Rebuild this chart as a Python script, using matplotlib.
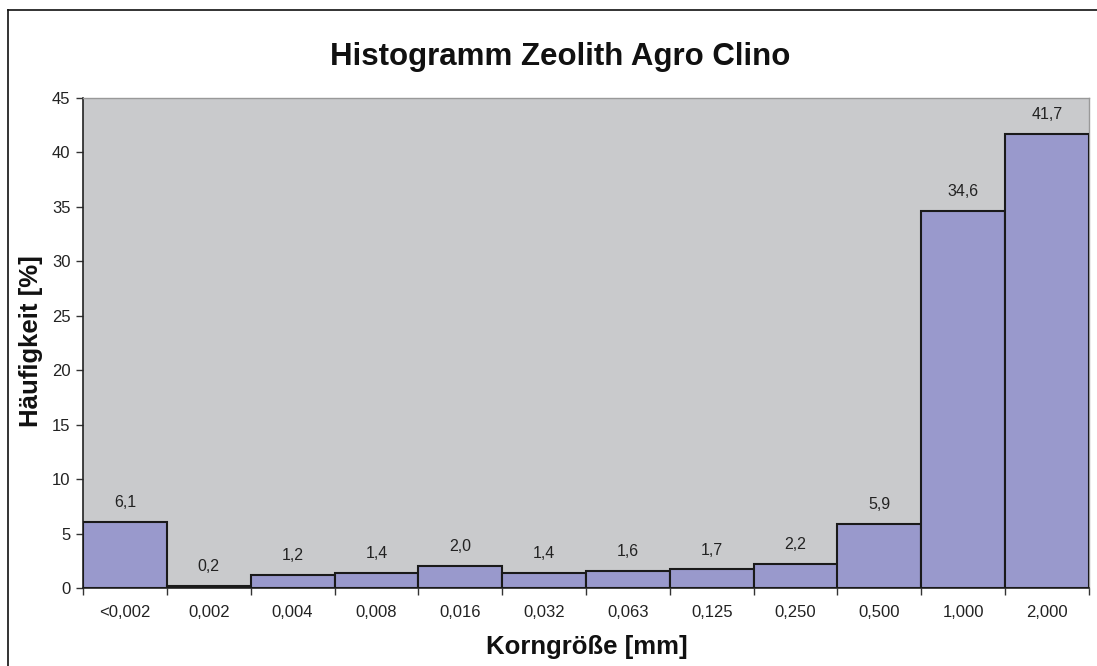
import matplotlib
matplotlib.use("Agg")
import matplotlib.pyplot as plt
from matplotlib.lines import Line2D
import numpy as np

categories = ["<0,002", "0,002", "0,004", "0,008", "0,016", "0,032", "0,063",
              "0,125", "0,250", "0,500", "1,000", "2,000"]
values = [6.1, 0.2, 1.2, 1.4, 2.0, 1.4, 1.6, 1.7, 2.2, 5.9, 34.6, 41.7]
y_ticks = [0, 5, 10, 15, 20, 25, 30, 35, 40, 45]

plt.rcParams['font.family'] = ['Liberation Sans', 'DejaVu Sans']

fig = plt.figure(figsize=(10.97, 6.66), dpi=100)
ax = fig.add_axes([83/1097, 1-588/666, (1089-83)/1097, (588-98)/666])
ax.set_facecolor("#c9cacc")

x = np.arange(len(categories))
ax.bar(x, values, width=1.0, color="#9999cc", edgecolor="#1a1a1a", linewidth=1.5, zorder=3)

for xi, v in zip(x, values):
    ax.annotate(f"{v:.1f}".replace(".", ","), (xi, v), xytext=(0, 14),
                textcoords="offset points", ha="center", va="center",
                fontsize=11.5, color="#222222")

ax.set_xlim(-0.5, len(categories) - 0.5)
ax.set_ylim(0, 45)
ax.set_yticks(y_ticks)
ax.set_yticklabels([str(t) for t in y_ticks], fontsize=12, color="#222222")
ax.set_xticks(x)
ax.set_xticklabels(categories, fontsize=12, color="#222222")
ax.tick_params(axis="x", length=0, pad=12)
ax.set_xticks(np.arange(len(categories) + 1) - 0.5, minor=True)
ax.tick_params(axis="x", which="minor", length=5, width=1, color="#333333")
ax.tick_params(axis="y", length=5, width=1, color="#333333", pad=4)

for s in ["left", "bottom"]:
    ax.spines[s].set_color("#222222")
    ax.spines[s].set_linewidth(1.2)
for s in ["top", "right"]:
    ax.spines[s].set_color("#999999")
    ax.spines[s].set_linewidth(1.0)

fig.text(560/1097, 1-57/666, "Histogramm Zeolith Agro Clino", ha="center", va="center",
         fontsize=22.5, fontweight="bold", color="#111111")
fig.text(587/1097, 1-647/666, "Korngröße [mm]", ha="center", va="center",
         fontsize=18.5, fontweight="bold", color="#111111")
fig.text(31/1097, 1-341/666, "Häufigkeit [%]", ha="center", va="center", rotation=90,
         fontsize=18.5, fontweight="bold", color="#111111")

# outer chart border (top and left visible)
fig.add_artist(Line2D([8/1097, 8/1097], [0, 1-10/666], transform=fig.transFigure,
                      color="#111111", linewidth=1.2))
fig.add_artist(Line2D([8/1097, 1], [1-10/666, 1-10/666], transform=fig.transFigure,
                      color="#111111", linewidth=1.2))

fig.savefig("out.png", dpi=100, facecolor="white")
